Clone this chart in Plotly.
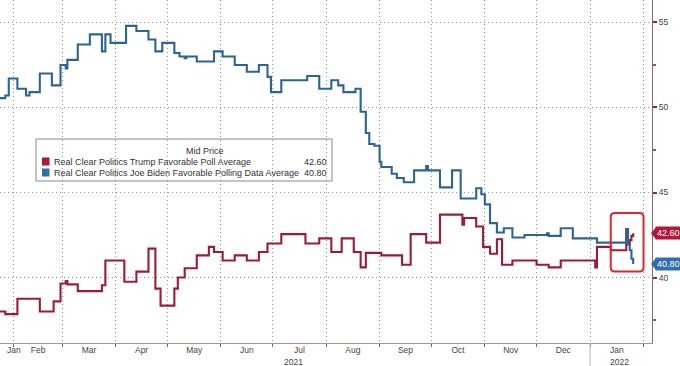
import plotly.graph_objects as go
from datetime import datetime

# ---------------- data ----------------
biden_name = "Real Clear Politics Joe Biden Favorable Polling Data Average"
trump_name = "Real Clear Politics Trump Favorable Poll Average"
legend_title = "Mid Price"

biden_dates = ["2021-01-23", "2021-01-27", "2021-01-29", "2021-02-03", "2021-02-08", "2021-02-10",
               "2021-02-16", "2021-02-23", "2021-02-28", "2021-03-03", "2021-03-04", "2021-03-10",
               "2021-03-17", "2021-03-24", "2021-03-26", "2021-03-29", "2021-04-07", "2021-04-13",
               "2021-04-20", "2021-04-24", "2021-04-28", "2021-05-05", "2021-05-08", "2021-05-11",
               "2021-05-12", "2021-05-18", "2021-05-28", "2021-06-02", "2021-06-09", "2021-06-16",
               "2021-06-23", "2021-06-28", "2021-06-30", "2021-07-06", "2021-07-21", "2021-07-28",
               "2021-08-04", "2021-08-08", "2021-08-11", "2021-08-18", "2021-08-21", "2021-08-24",
               "2021-08-26", "2021-08-29", "2021-09-01", "2021-09-02", "2021-09-08", "2021-09-11",
               "2021-09-15", "2021-09-21", "2021-09-28", "2021-09-29", "2021-10-06", "2021-10-13",
               "2021-10-18", "2021-10-27", "2021-10-30", "2021-11-01", "2021-11-04", "2021-11-08",
               "2021-11-12", "2021-11-17", "2021-11-24", "2021-12-07", "2021-12-08", "2021-12-15",
               "2021-12-22", "2022-01-05", "2022-01-21", "2022-01-22", "2022-01-23", "2022-01-24",
               "2022-01-25", "2022-01-26"]
biden_vals = [50.55, 50.7, 51.7, 51.1, 50.7, 50.9,
              52.0, 51.3, 52.5, 52.3, 52.8, 53.7,
              54.3, 53.3, 54.3, 53.8, 54.8, 54.5,
              54.0, 53.3, 53.8, 53.2, 53.0, 52.9,
              53.0, 52.7, 53.3, 53.0, 52.5, 52.1,
              52.5, 51.8, 50.9, 51.6, 51.85, 51.1,
              51.6, 51.3, 50.9, 51.1, 49.75, 48.5,
              47.85, 47.75, 46.8, 46.5, 46.1, 45.85,
              45.6, 46.3, 46.55, 46.3, 45.3, 46.3,
              44.65, 45.25, 44.9, 44.3, 43.2, 42.65,
              42.9, 42.35, 42.5, 42.6, 42.45, 42.9,
              42.3, 42.05, 42.05, 42.85, 42.0, 41.6,
              41.1, 40.8]

trump_dates = ["2021-01-23", "2021-01-27", "2021-02-03", "2021-02-16", "2021-02-24", "2021-02-28",
               "2021-03-03", "2021-03-04", "2021-03-10", "2021-03-24", "2021-03-26", "2021-04-06",
               "2021-04-13", "2021-04-20", "2021-04-24", "2021-04-27", "2021-05-05", "2021-05-07",
               "2021-05-11", "2021-05-18", "2021-05-25", "2021-05-28", "2021-06-02", "2021-06-09",
               "2021-06-16", "2021-06-23", "2021-06-28", "2021-07-06", "2021-07-20", "2021-07-28",
               "2021-08-04", "2021-08-10", "2021-08-17", "2021-08-21", "2021-08-24", "2021-09-02",
               "2021-09-14", "2021-09-19", "2021-09-28", "2021-10-06", "2021-10-19", "2021-10-20",
               "2021-10-27", "2021-10-31", "2021-11-04", "2021-11-08", "2021-11-11", "2021-11-17",
               "2021-12-01", "2021-12-08", "2021-12-15", "2022-01-04", "2022-01-05", "2022-01-13",
               "2022-01-21", "2022-01-22", "2022-01-23", "2022-01-24", "2022-01-25", "2022-01-26"]
trump_vals = [38.0, 37.85, 38.75, 38.0, 38.6, 39.65,
              39.8, 39.6, 39.2, 39.55, 41.0, 39.75,
              40.35, 41.7, 39.35, 38.35, 39.35, 40.0,
              40.55, 41.3, 41.8, 41.5, 41.0, 41.3,
              41.0, 41.5, 42.0, 42.55, 42.0, 42.3,
              41.5, 42.3, 41.5, 40.6, 41.45, 41.3,
              40.75, 42.55, 42.05, 43.7, 43.1, 43.5,
              43.0, 41.8, 41.4, 42.25, 40.75, 41.0,
              40.75, 40.6, 41.0, 40.6, 41.8, 41.6,
              41.6, 42.85, 41.95, 42.2, 42.45, 42.6]

y_ticks = [40, 45, 50, 55]
year_labels = [("2021", "2021-07-13"), ("2022", "2022-01-18")]
highlight_x = ["2022-01-13", "2022-02-01"]
highlight_y = [40.35, 43.8]

# ---------------- style ----------------
RED = "#9b1c37"
BLUE = "#2d6494"
RED_LBL = "#b3173a"
BLUE_LBL = "#2f6fab"
FONT = "Liberation Sans"
X0, X1 = "2021-01-23 22:00", "2022-02-05 22:00"
Y0, Y1 = 36.15, 56.32
W, H = 680, 366
ML, MR, MT, MB = 0, 28, 0, 23
PW, PH = W - ML - MR, H - MT - MB

t0 = datetime.fromisoformat(X0)
t1 = datetime.fromisoformat(X1)


def xfrac(d):
    d = datetime.fromisoformat(d)
    return (d - t0).total_seconds() / (t1 - t0).total_seconds()


def yfrac(v):
    return (v - Y0) / (Y1 - Y0)


def P(xpx, ypx):
    return xpx / PW, (PH - ypx) / PH


fig = go.Figure()
fig.add_trace(go.Scatter(x=trump_dates, y=trump_vals, mode="lines", name=trump_name,
                         line=dict(color=RED, width=2.1, shape="hv")))
fig.add_trace(go.Scatter(x=biden_dates, y=biden_vals, mode="lines", name=biden_name,
                         line=dict(color=BLUE, width=2.1, shape="hv")))

fig.update_layout(
    width=W, height=H, margin=dict(l=ML, r=MR, t=MT, b=MB),
    plot_bgcolor="white", paper_bgcolor="white", showlegend=False,
    font=dict(family=FONT, size=9, color="#444"),
    xaxis=dict(type="date", range=[X0, X1], tick0="2021-02-01", dtick="M1",
               ticklabelmode="period", tickformat="%b", showgrid=True,
               griddash="1px,3px", gridcolor="#999", gridwidth=1,
               ticks="outside", ticklen=3, tickcolor="#666", ticklabelstandoff=-4,
               showline=True, linecolor="#999", linewidth=1, zeroline=False,
               tickfont=dict(size=8.5, color="#444", family=FONT)),
    yaxis=dict(side="right", range=[Y0, Y1], tickvals=y_ticks, showgrid=True,
               griddash="1px,3px", gridcolor="#999", gridwidth=1,
               ticks="outside", ticklen=4, tickwidth=2, tickcolor="#8b2a3c",
               minor=dict(dtick=2.5, tick0=0, ticks="outside", ticklen=3, tickcolor="#8b5a64", showgrid=False),
               showline=True, linecolor="#8b6a6e", linewidth=1, zeroline=False,
               tickfont=dict(size=8.5, color="#444", family=FONT)),
)

# year labels and left-cut Jan label
for txt, d in year_labels:
    fig.add_annotation(x=d, xref="x", y=P(0, 361.5)[1], yref="paper", text=txt, showarrow=False,
                       font=dict(size=8.5, color="#444", family=FONT), yanchor="middle")
fig.add_annotation(x=P(5, 0)[0], xref="paper", y=P(0, 350)[1], yref="paper", text="Jan",
                   showarrow=False, font=dict(size=8.5, color="#444", family=FONT), yanchor="middle")

# year separator
fig.add_shape(type="line", xref="x", yref="paper", x0="2022-01-01", x1="2022-01-01",
              y0=0, y1=-MB / PH, line=dict(color="#bbb", width=1))

# last value labels
for val, col in [(trump_vals[-1], RED_LBL), (biden_vals[-1], BLUE_LBL)]:
    fig.add_annotation(x=1, xref="paper", y=val, yref="y", text=f"{val:.2f}", showarrow=False,
                       xanchor="left", xshift=3, yanchor="middle", bgcolor=col, borderpad=1,
                       font=dict(color="white", size=9, family=FONT))
    dx = 4 / PW
    dv = 6 / PH * (Y1 - Y0)
    fig.add_shape(type="path", xref="paper", yref="y",
                  path=f"M {1 - 1 / PW},{val} L {1+dx},{val+dv} L {1+dx},{val-dv} Z",
                  fillcolor=col, line=dict(width=0))

# highlight box (rounded)
hx0, hx1 = xfrac(highlight_x[0]), xfrac(highlight_x[1])
hy0, hy1 = yfrac(highlight_y[0]), yfrac(highlight_y[1])
rx, ry = 4 / PW, 4 / PH
path = (f"M {hx0+rx},{hy1} L {hx1-rx},{hy1} Q {hx1},{hy1} {hx1},{hy1-ry} "
        f"L {hx1},{hy0+ry} Q {hx1},{hy0} {hx1-rx},{hy0} L {hx0+rx},{hy0} "
        f"Q {hx0},{hy0} {hx0},{hy0+ry} L {hx0},{hy1-ry} Q {hx0},{hy1} {hx0+rx},{hy1} Z")
fig.add_shape(type="path", xref="paper", yref="paper", path=path,
              line=dict(color="#e0262e", width=2))

# custom legend box
bx0, by0 = P(36, 181)
bx1, by1 = P(332, 139)
fig.add_shape(type="rect", xref="paper", yref="paper", x0=bx0, x1=bx1, y0=by0, y1=by1,
              line=dict(color="#8a8a8a", width=1))
tx, ty = P(184, 150.5)
fig.add_annotation(x=tx, y=ty, xref="paper", yref="paper", text=legend_title, showarrow=False,
                   font=dict(size=9, color="#333", family=FONT), yanchor="middle")
for (name, vals, col, ypx) in [(trump_name, trump_vals, RED_LBL, 161.5),
                               (biden_name, biden_vals, BLUE_LBL, 172.5)]:
    sx0, sy0 = P(42, ypx + 4)
    sx1, sy1 = P(49.5, ypx - 4)
    fig.add_shape(type="rect", xref="paper", yref="paper", x0=sx0, x1=sx1, y0=sy0, y1=sy1,
                  fillcolor=col, line=dict(width=0))
    lx, ly = P(52, ypx)
    fig.add_annotation(x=lx, y=ly, xref="paper", yref="paper", text=name, showarrow=False,
                       xanchor="left", yanchor="middle", font=dict(size=9, color="#333", family=FONT))
    vx, _ = P(328.5, ypx)
    fig.add_annotation(x=vx, y=ly, xref="paper", yref="paper", text=f"{vals[-1]:.2f}",
                       showarrow=False, xanchor="right", yanchor="middle",
                       font=dict(size=9, color="#333", family=FONT))

fig.write_html("out.html", config={"displayModeBar": False},
               post_script="document.body.style.margin='0';document.body.style.overflow='hidden';")
